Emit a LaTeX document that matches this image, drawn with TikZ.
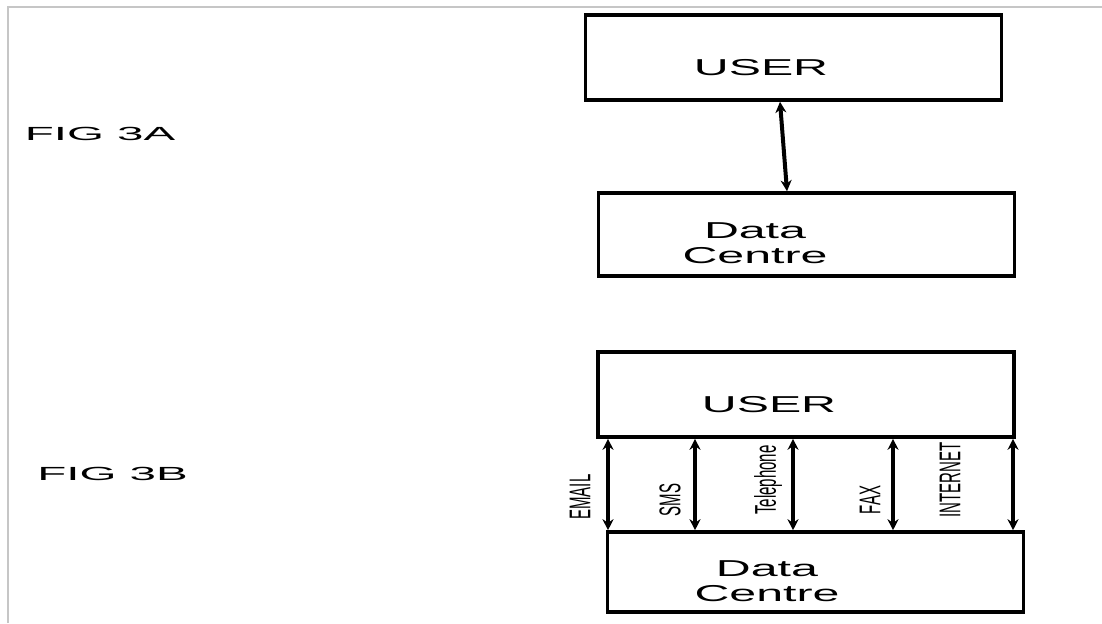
\documentclass[tikz,border=0pt]{standalone}
\usepackage{fontspec}
\setmainfont{Liberation Sans}
\newfontfamily\widefont[FakeStretch=2.1]{Liberation Sans}
\newfontfamily\figfont[FakeStretch=2.5]{Liberation Sans}
\usetikzlibrary{arrows.meta}
\newcommand{\vlabel}[1]{\scalebox{2}[1]{\rotatebox{90}{#1}}}

\begin{document}
\begin{tikzpicture}[x=0.5pt, y=-0.5pt,
	box/.style={draw, line width=1.8pt, inner sep=0pt, minimum width=208pt},
	boxtext/.style={font=\widefont\fontsize{11.5}{12.5}\selectfont, align=center, inner sep=0pt},
	figtext/.style={font=\figfont\fontsize{9.5}{11}\selectfont, inner sep=0pt},
	medium/.style={font=\fontsize{7.5}{9}\selectfont, inner sep=0pt},
	link/.style={line width=2pt, {Stealth[length=5.5pt,width=5.5pt]}-{Stealth[length=5.5pt,width=5.5pt]}}]
	\useasboundingbox (0,0) rectangle (1102,623);
	\draw[gray!45, line width=0.7pt] (8,623) |- (1102,7);
	% FIG 3A
	\node[figtext] (figA) at (100,133.5) {FIG 3A};
	\node[box, minimum height=42.5pt] (userA) at (793.5,57.5) {};
	\node[boxtext] (userAtext) at (761,68) {USER};
	\node[box, minimum height=41.5pt] (dataA) at (806.5,234.5) {};
	\node[boxtext] (dataAtext) at (755,243) {Data\\Centre};
	\draw[link] ([xshift=-6.75pt]userA.south) -- ([xshift=-9.75pt]dataA.north);
	% FIG 3B
	\node[figtext] (figB) at (112.5,474) {FIG 3B};
	\node[box, minimum height=42.5pt] (userB) at (806,394.5) {};
	\node[boxtext] (userBtext) at (769,405) {USER};
	\node[box, minimum height=40pt] (dataB) at (815.5,572) {};
	\node[boxtext] (dataBtext) at (767,581) {Data\\Centre};
	\foreach \xx/\nm in {608/email, 695/sms, 793/phone, 893/fax, 1013/web}{
		\coordinate (\nm) at (\xx,0);
		\draw[link] (userB.south -| \nm) -- (dataB.north -| \nm);
	}
	\node[medium] (emailtext) at (580,497) {\vlabel{EMAIL}};
	\node[medium] (smstext) at (670,500) {\vlabel{SMS}};
	\node[medium] (phonetext) at (768,480) {\vlabel{Telephone}};
	\node[medium] (faxtext) at (870,500) {\vlabel{FAX}};
	\node[medium] (webtext) at (950,480) {\vlabel{INTERNET}};
\end{tikzpicture}
\end{document}
